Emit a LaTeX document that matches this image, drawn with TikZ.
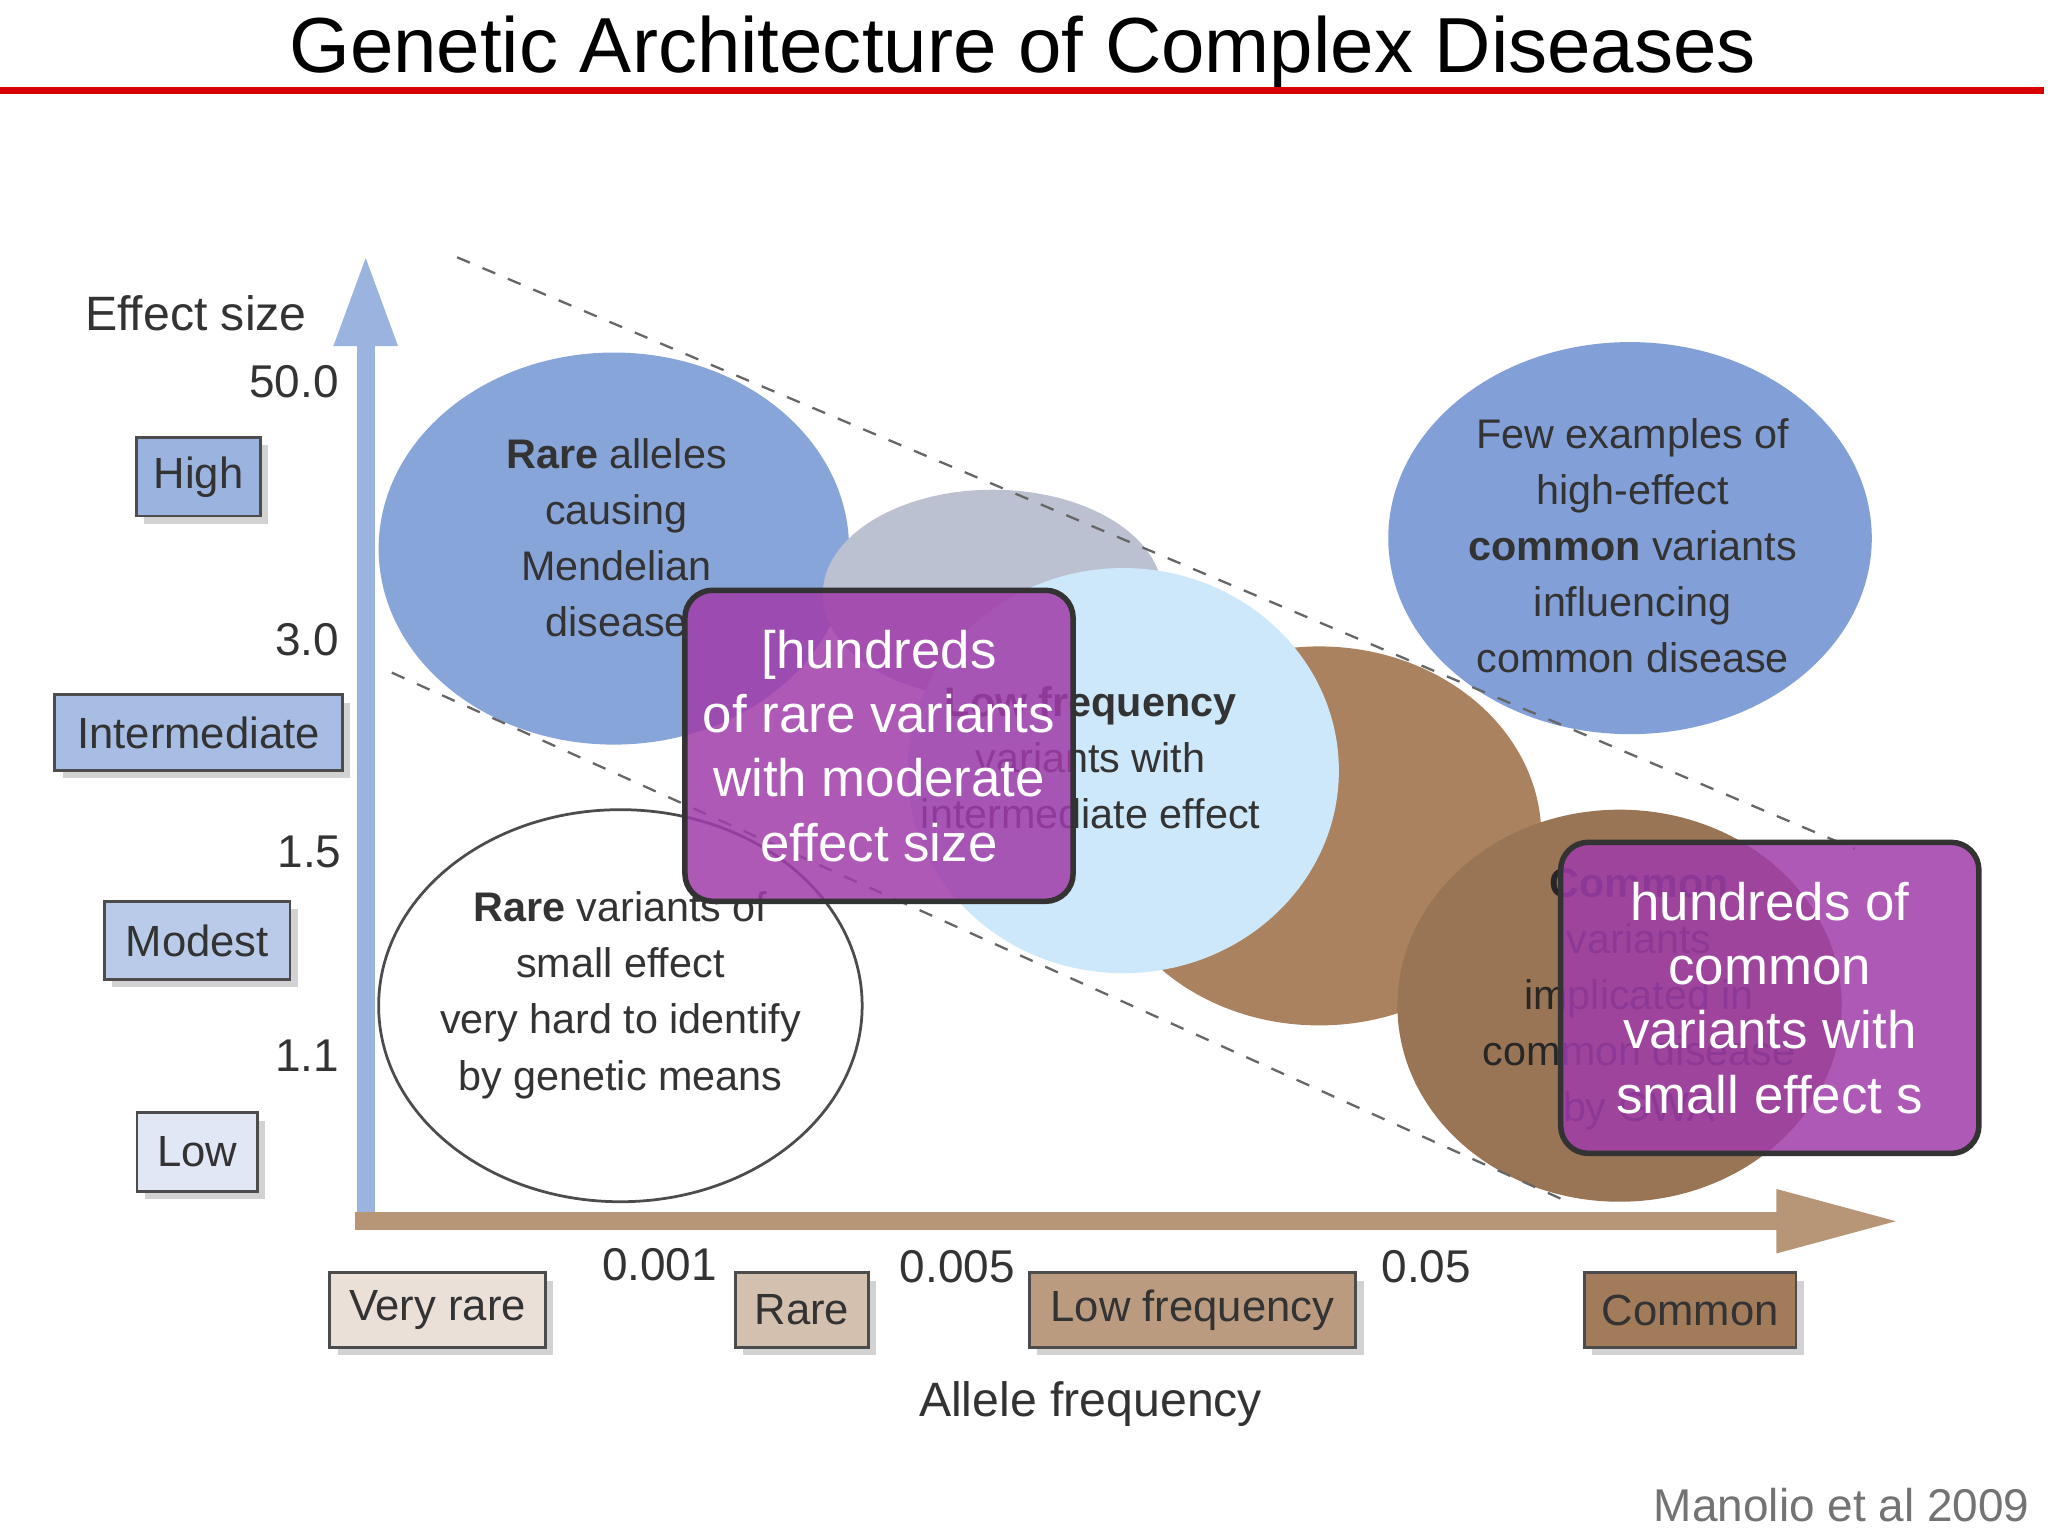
\documentclass[tikz,border=0pt]{standalone}
\usepackage{fontspec}
\setmainfont{Liberation Sans}
\usetikzlibrary{arrows.meta,shapes.geometric,shadows}
\definecolor{blueA}{RGB}{130,160,215}
\definecolor{blueL}{RGB}{205,232,250}
\definecolor{brownA}{RGB}{170,130,95}
\definecolor{purp}{RGB}{160,60,170}
\begin{document}
\begin{tikzpicture}[x=0.01cm,y=-0.01cm,
  lab/.style={draw=black!70,line width=0.6pt,inner sep=1pt,font=\fontsize{9.5}{11}\selectfont,text=black!80,drop shadow={shadow xshift=0.6mm,shadow yshift=-0.6mm,opacity=0.35}},
  ell/.style={ellipse,draw=none,inner sep=0pt},
  etxt/.style={align=center,font=\fontsize{9}{12.2}\selectfont,text=black!80},
  pbox/.style={draw=black!80,line width=1.2pt,rounded corners=6pt,fill=purp,fill opacity=0.85,text opacity=1,text=white,align=center,font=\fontsize{11.5}{14}\selectfont},
  num/.style={font=\fontsize{10}{12}\selectfont,text=black!80},
  dsh/.style={dashed,black!60,line width=0.5pt}]
\useasboundingbox (0,0) rectangle (1568,1176);
\fill[white] (0,0) rectangle (1568,1176);
\node (title) at (783,40) {\fontsize{17}{19}\selectfont Genetic Architecture of Complex Diseases};
\draw[red!85!black,line width=1.5pt] (0,69) -- (1565,69);
% ellipses
\node[ell,fill=blueA!95,minimum width=3.6cm,minimum height=3.0cm] (e1) at (470,420) {};
\node[ell,fill=blueA!70!brownA!60,minimum width=2.6cm,minimum height=1.6cm] (e2) at (760,455) {};
\node[ell,fill=brownA,minimum width=3.4cm,minimum height=2.9cm] (e4) at (1010,640) {};
\node[ell,fill=brownA!90!black,minimum width=3.4cm,minimum height=3.0cm] (e5) at (1240,770) {};
\node[ell,fill=blueL,minimum width=3.3cm,minimum height=3.1cm] (e3) at (860,590) {};
\node[ell,fill=blueA,minimum width=3.7cm,minimum height=3.0cm] (e6) at (1248,412) {};
\node[ell,draw=black!70,fill=white,line width=0.6pt,minimum width=3.7cm,minimum height=3.0cm] (e7) at (475,770) {};
% dashed
\coordinate (d1a) at (350,197); \coordinate (d1b) at (1420,650);
\coordinate (d2a) at (300,515); \coordinate (d2b) at (1200,920);
\draw[dsh] (d1a) -- (d1b);
\draw[dsh] (d2a) -- (d2b);
% axes
\coordinate (yo) at (280,942); \coordinate (yt) at (280,195);
\coordinate (xo) at (272,935); \coordinate (xt) at (1455,935);
\draw[-{Triangle[width=0.45cm,length=0.7cm]},line width=0.14cm,blueA!80] (yo) -- (yt);
\draw[-{Triangle[width=0.45cm,length=0.95cm]},line width=0.14cm,brownA!85] (xo) -- (xt);
% texts in ellipses
\node[etxt] (t1) at (472,412) {\textbf{Rare} alleles\\causing\\Mendelian\\disease};
\node[etxt] (t3) at (835,580) {\textbf{Low frequency}\\variants with\\intermediate effect};
\node[etxt] (t6) at (1250,418) {Few examples of\\high-effect\\\textbf{common} variants\\influencing\\common disease};
\node[etxt] (t7) at (475,762) {\textbf{Rare} variants of\\small effect\\very hard to identify\\by genetic means};
\node[etxt,text=black!85] (t5) at (1255,765) {\textbf{Common}\\variants\\implicated in\\common disease\\by GWA};
% purple boxes
\node[pbox,minimum width=2.97cm,minimum height=2.38cm] (p1) at (673,571) {[hundreds\\of rare variants\\with moderate\\effect size};
\node[pbox,minimum width=3.2cm,minimum height=2.38cm] (p2) at (1355,764) {hundreds of\\common\\variants with\\small effect s};
% y labels
\node[font=\fontsize{10.5}{12}\selectfont,text=black!80] (es) at (150,240) {Effect size};
\node[num] (n50) at (225,292) {50.0};
\node[num] (n30) at (235,490) {3.0};
\node[num] (n15) at (237,652) {1.5};
\node[num] (n11) at (235,808) {1.1};
\node[lab,fill=blueA!80,minimum width=0.95cm,minimum height=0.6cm] (hi) at (152,365) {High};
\node[lab,fill=blueA!70,minimum width=2.2cm,minimum height=0.58cm] (im) at (152,561) {Intermediate};
\node[lab,fill=blueA!55,minimum width=1.42cm,minimum height=0.6cm] (mo) at (151,720) {Modest};
\node[lab,fill=blueA!25,minimum width=0.92cm,minimum height=0.6cm] (lo) at (151,882) {Low};
% x labels
\node[lab,fill=brownA!25,minimum width=1.65cm,minimum height=0.57cm] (vr) at (335,1003) {Very rare};
\node[lab,fill=brownA!50,minimum width=1.02cm,minimum height=0.57cm] (ra) at (614,1003) {Rare};
\node[lab,fill=brownA!80,minimum width=2.5cm,minimum height=0.57cm] (lf) at (913,1003) {Low frequency};
\node[lab,fill=brownA!95!black,minimum width=1.62cm,minimum height=0.57cm] (co) at (1294,1003) {Common};
\node[num] (x1) at (505,968) {0.001};
\node[num] (x2) at (733,970) {0.005};
\node[num] (x3) at (1092,970) {0.05};
\node[font=\fontsize{10.5}{12}\selectfont,text=black!80] (af) at (835,1075) {Allele frequency};
\node[font=\fontsize{10}{12}\selectfont,text=black!55] (ref) at (1410,1152) {Manolio et al 2009};
\end{tikzpicture}
\end{document}
